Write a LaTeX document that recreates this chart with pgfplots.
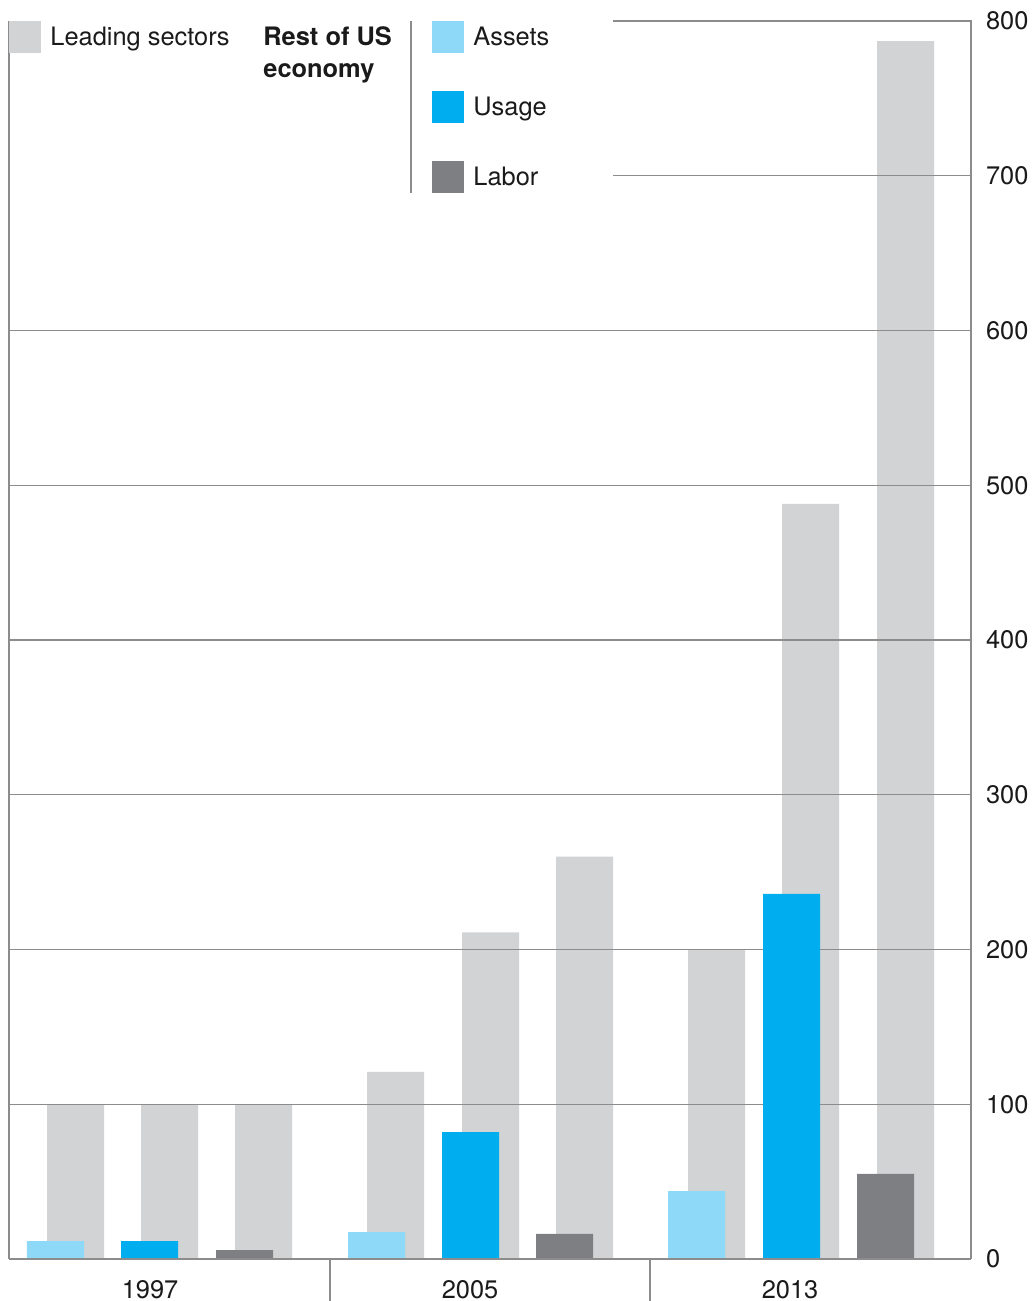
\documentclass[border=0pt]{standalone}
\usepackage{fontspec}
\setmainfont{TeX Gyre Heros}
\usepackage{pgfplots}
\pgfplotsset{compat=1.18}
\definecolor{lead}{HTML}{D1D3D4}
\definecolor{assets}{HTML}{8ED8F8}
\definecolor{usage}{HTML}{00AEEF}
\definecolor{labor}{HTML}{7E7F83}
\definecolor{gridc}{HTML}{8C8C8C}
\definecolor{txt}{HTML}{1A1A1A}
\begin{document}
\begin{tikzpicture}
\useasboundingbox (-4.5pt,-21pt) rectangle (513pt,629.5pt);
\begin{axis}[
  at={(0,0)}, anchor=south west,
  scale only axis, width=481pt, height=619pt,
  xmin=0, xmax=962, ymin=0, ymax=800,
  axis line style={draw=none}, major tick length=0pt,
  xtick={141,461,781}, xticklabels={1997,2005,2013},
  ytick={0,100,...,800}, yticklabel pos=right,
  tick label style={font=\fontsize{12.7}{15}\selectfont, text=txt},
  /pgf/number format/assume math mode=true,
  yticklabel style={anchor=west, xshift=4pt},
  xticklabel style={anchor=north, yshift=-7pt},
  clip=false,
]
\addplot[ybar, bar width=57, bar shift=0pt, fill=lead, draw=none] coordinates {
 (66.5,100) (160.5,100) (254.5,100)
 (386.5,121) (481.5,211) (575.5,260)
 (707.5,200) (801.5,488) (896.5,787)};
\draw[gridc, line width=0.6pt] (axis cs:0,100) -- (axis cs:962,100);
\draw[gridc, line width=0.6pt] (axis cs:0,200) -- (axis cs:962,200);
\draw[gridc, line width=0.6pt] (axis cs:0,300) -- (axis cs:962,300);
\draw[gridc, line width=0.6pt] (axis cs:0,400) -- (axis cs:962,400);
\draw[gridc, line width=0.6pt] (axis cs:0,500) -- (axis cs:962,500);
\draw[gridc, line width=0.6pt] (axis cs:0,600) -- (axis cs:962,600);
\draw[gridc, line width=0.6pt] (axis cs:604,700) -- (axis cs:962,700);
\draw[gridc, line width=0.6pt] (axis cs:604,800) -- (axis cs:962,800) -- (axis cs:962,0);
\draw[gridc, line width=0.6pt] (axis cs:0,800) -- (axis cs:0,0);
\addplot[ybar, bar width=57, bar shift=0pt, fill=assets, draw=none] coordinates {
 (46.5,11.6) (367.5,17.4) (687.5,43.9)};
\addplot[ybar, bar width=57, bar shift=0pt, fill=usage, draw=none] coordinates {
 (140.5,11.6) (461.5,82) (782.5,236)};
\addplot[ybar, bar width=57, bar shift=0pt, fill=labor, draw=none] coordinates {
 (235.5,5.8) (555.5,16.2) (876.5,55)};
\draw[gridc, line width=0.8pt] (axis cs:0,0) -- (axis cs:962,0);
\end{axis}
\begin{scope}[x=0.5pt, y=-0.5pt, shift={(-4.5pt,629.5pt)}]
  \draw[gridc, line width=0.6pt] (330,1259) -- (330,1301);
  \draw[gridc, line width=0.6pt] (650,1259) -- (650,1301);
  \draw[gridc, line width=0.8pt] (411,21) -- (411,193);
  \fill[lead] (9,21) rectangle (41,53);
  \fill[assets] (432,21) rectangle (464,53);
  \fill[usage] (432,91) rectangle (464,123);
  \fill[labor] (432,161) rectangle (464,193);
  \begin{scope}[every node/.style={anchor=base west, inner sep=0pt, text=txt, font=\fontsize{12.7}{15}\selectfont}]
    \node at (50,46) {Leading sectors};
    \node at (263,46) {\bfseries Rest of US};
    \node at (263,78) {\bfseries economy};
    \node at (473,46) {Assets};
    \node at (473,116) {Usage};
    \node at (473,186) {Labor};
  \end{scope}
\end{scope}
\end{tikzpicture}
\end{document}
